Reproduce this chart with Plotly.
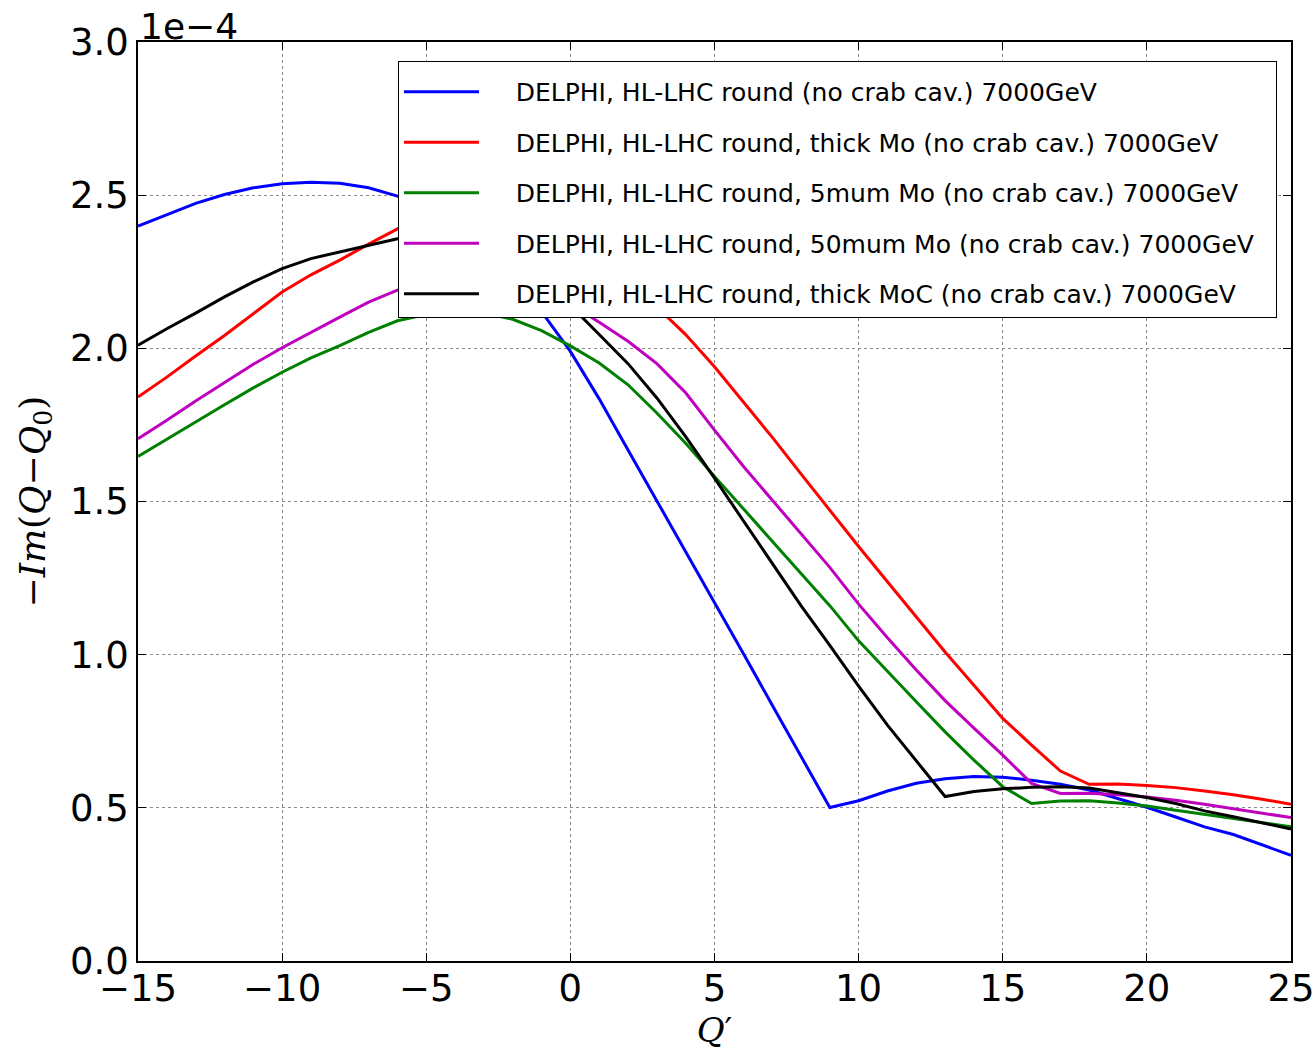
import plotly.graph_objects as go

q_prime = [-15, -14, -13, -12, -11, -10, -9, -8, -7, -6, -5, -4, -3, -2, -1, 0, 1, 2, 3, 4, 5,
           6, 7, 8, 9, 10, 11, 12, 13, 14, 15, 16, 17, 18, 19, 20, 21, 22, 23, 24, 25]

# -Im(Q-Q0) in units of 1e-4
round_nocrab = [2.399, 2.437, 2.473, 2.502, 2.524, 2.537, 2.542, 2.539, 2.524, 2.497, 2.46,
                2.405, 2.33, 2.235, 2.12, 1.99, 1.835, 1.668, 1.503, 1.339, 1.171, 1.004, 0.836,
                0.668, 0.501, 0.523, 0.555, 0.58, 0.595, 0.602, 0.60, 0.59, 0.577, 0.558, 0.53,
                0.502, 0.47, 0.438, 0.413, 0.38, 0.345]
thick_mo = [1.841, 1.906, 1.975, 2.042, 2.113, 2.184, 2.24, 2.288, 2.34, 2.39, 2.43, 2.45, 2.45,
            2.43, 2.395, 2.345, 2.285, 2.215, 2.135, 2.045, 1.94, 1.826, 1.71, 1.59, 1.47, 1.353,
            1.238, 1.123, 1.009, 0.90, 0.792, 0.705, 0.62, 0.577, 0.578, 0.573, 0.566, 0.555,
            0.543, 0.528, 0.512]
mo_5mum = [1.647, 1.704, 1.761, 1.816, 1.871, 1.922, 1.969, 2.009, 2.052, 2.09, 2.11, 2.12, 2.115,
           2.095, 2.058, 2.008, 1.952, 1.881, 1.789, 1.69, 1.582, 1.477, 1.372, 1.266, 1.16, 1.045,
           0.944, 0.846, 0.748, 0.656, 0.569, 0.514, 0.522, 0.523, 0.516, 0.506, 0.492, 0.479,
           0.465, 0.451, 0.438]
mo_50mum = [1.705, 1.765, 1.828, 1.888, 1.948, 2.002, 2.053, 2.102, 2.151, 2.19, 2.22, 2.235,
            2.235, 2.22, 2.19, 2.145, 2.085, 2.023, 1.95, 1.855, 1.733, 1.615, 1.505, 1.395, 1.285,
            1.165, 1.055, 0.95, 0.85, 0.76, 0.672, 0.58, 0.547, 0.548, 0.543, 0.535, 0.525, 0.512,
            0.498, 0.483, 0.468]
thick_moc = [2.01, 2.064, 2.115, 2.168, 2.217, 2.26, 2.293, 2.315, 2.337, 2.358, 2.368, 2.363,
             2.338, 2.293, 2.228, 2.14, 2.045, 1.95, 1.838, 1.712, 1.576, 1.436, 1.296, 1.16, 1.03,
             0.897, 0.77, 0.655, 0.537, 0.553, 0.562, 0.567, 0.569, 0.565, 0.55, 0.534, 0.514,
             0.49, 0.471, 0.45, 0.431]

series_names = [
    "DELPHI, HL-LHC round (no crab cav.) 7000GeV",
    "DELPHI, HL-LHC round, thick Mo (no crab cav.) 7000GeV",
    "DELPHI, HL-LHC round, 5mum Mo (no crab cav.) 7000GeV",
    "DELPHI, HL-LHC round, 50mum Mo (no crab cav.) 7000GeV",
    "DELPHI, HL-LHC round, thick MoC (no crab cav.) 7000GeV",
]
series_values = [round_nocrab, thick_mo, mo_5mum, mo_50mum, thick_moc]
series_colors = ["#0000ff", "#ff0000", "#008000", "#bf00bf", "#000000"]

x_ticks = [-15, -10, -5, 0, 5, 10, 15, 20, 25]
y_ticks = [0.0, 0.5, 1.0, 1.5, 2.0, 2.5, 3.0]
y_tick_labels = ["0.0", "0.5", "1.0", "1.5", "2.0", "2.5", "3.0"]

PAD = "\u00a0" * 4  # gap between legend line sample and its label
TAIL = "\u00a0" * 2  # right padding inside the legend box

fig = go.Figure()
for i, (name, vals, col) in enumerate(zip(series_names, series_values, series_colors)):
    fig.add_trace(go.Scatter(
        x=q_prime, y=vals, mode="lines", name=PAD + name + TAIL,
        line=dict(color=col, width=3),
        legendgroup="g%d" % i,
    ))

axis_common = dict(
    showline=True, linecolor="black", linewidth=1.5, mirror="ticks",
    ticks="inside", ticklen=8, tickwidth=1.2, tickcolor="black",
    showgrid=True, gridcolor="#8a8a8a", griddash="dot", gridwidth=1,
    zeroline=False, automargin=False, ticklabeloverflow="allow",
    tickfont=dict(family="DejaVu Sans", size=37, color="black"),
)

fig.update_xaxes(range=[-15, 25], tickvals=x_ticks, ticklabelstandoff=-6, **axis_common,
                 title=dict(text="<i>Q</i>′", font=dict(family="DejaVu Serif", size=34, color="black"),
                            standoff=2))
fig.update_yaxes(range=[0, 3.0], tickvals=y_ticks, ticktext=y_tick_labels, **axis_common)

fig.update_layout(
    width=1314, height=1056,
    margin=dict(l=138, r=23, t=42, b=95),
    plot_bgcolor="white", paper_bgcolor="white",
    showlegend=True,
    legend=dict(
        x=0.2253, y=0.979, xanchor="left", yanchor="top",
        bgcolor="white", bordercolor="black", borderwidth=1.2,
        font=dict(family="DejaVu Sans", size=25, color="black"),
        tracegroupgap=15, itemwidth=75,
        title=dict(text="\u00a0", font=dict(size=5)),
    ),
    annotations=[
        dict(text="1e−4", xref="paper", yref="paper", x=0.0, y=1.0, xanchor="left", yanchor="bottom",
             showarrow=False, font=dict(family="DejaVu Sans", size=36, color="black"), yshift=-7),
        dict(text="−<i>Im</i>(<i>Q</i>−<i>Q</i><sub>0</sub>)", xref="paper", yref="paper",
             x=0, y=0.5, xanchor="center", yanchor="middle", xshift=-103, textangle=-90,
             showarrow=False, font=dict(family="DejaVu Serif", size=36, color="black")),
    ],
)

fig.write_html("out.html")
